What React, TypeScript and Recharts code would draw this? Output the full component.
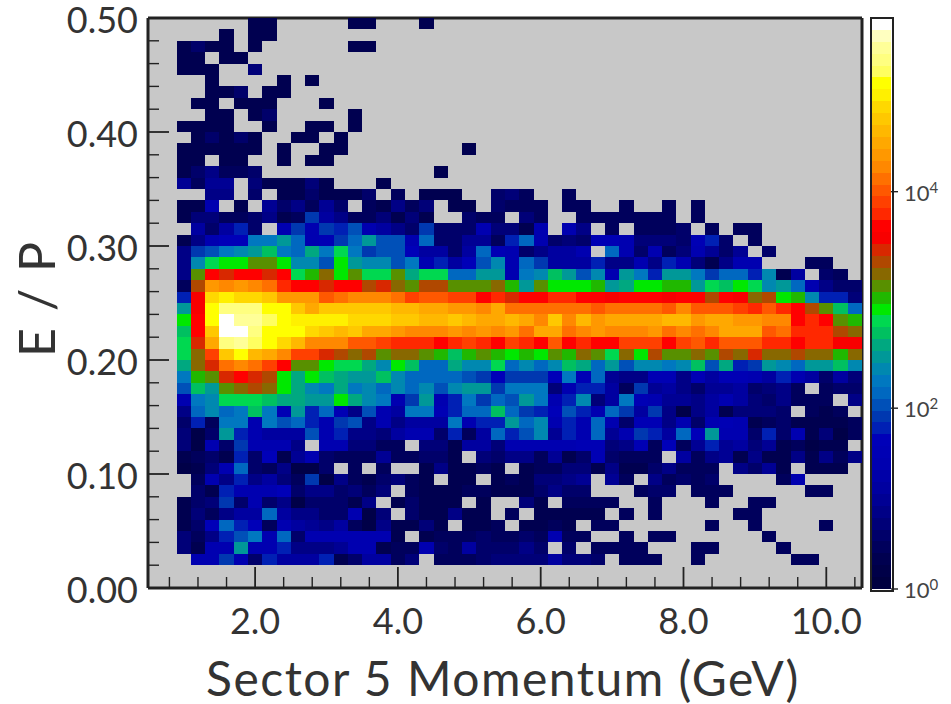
import { Bar, BarChart, CartesianGrid, Scatter, ScatterChart, XAxis, YAxis } from "recharts";

// colour levels, lowest count first, one letter per level
const LEVEL_KEYS = "abcdefghijklmnopqrstuvwxyzABCDEFGHIJKLMNOPQRSTUV";
const LEVEL_COLORS = [
  "#000040", "#000048", "#000050", "#00005c", "#00006a", "#000078", "#000086", "#000094",
  "#0000a0", "#0000a8", "#0000b0", "#0000b4", "#0000b8", "#0020b4", "#0038b0", "#0050b8",
  "#0068c0", "#0078c0", "#0088b0", "#009898", "#00a880", "#00c060", "#00d850", "#00e800",
  "#20b800", "#589000", "#886800", "#b04800", "#d82800", "#f80000", "#ff0000", "#ff2800",
  "#ff4000", "#ff5800", "#ff7000", "#ff8800", "#ff9800", "#ffa800", "#ffb800", "#ffc800",
  "#ffd800", "#fff000", "#ffff00", "#ffff60", "#ffff80", "#ffff98", "#ffffc0", "#ffffff",
];

// histogram rows, top row (E/P 0.49-0.50) first, 50 momentum bins in each, "." is an empty bin
const E = "..........";
const HIST_ROWS = [
  `.......cc. ....cc...c ${E} ${E} ${E}`,
  `.....c.cc. ${E} ${E} ${E} ${E}`,
  `..cecc.c.. ....cc.... ${E} ${E} ${E}`,
  `..cc.cc... ${E} ${E} ${E} ${E}`,
  `..ccc..f.. ${E} ${E} ${E} ${E}`,
  `....c....c .c........ ${E} ${E} ${E}`,
  `....cce.cc ${E} ${E} ${E} ${E}`,
  `...cc.ccc. ..c....... ${E} ${E} ${E}`,
  `....cc.ce. ....c..... ${E} ${E} ${E}`,
  `..cccc..c. .cc.c..... ${E} ${E} ${E}`,
  `...cecec.. cc.c...... ${E} ${E} ${E}`,
  `..cccccc.c ..cc...... ..c....... ${E} ${E}`,
  `..cc.cc..c .cc....... ${E} ${E} ${E}`,
  `..cegdde.. ${E} c......... ${E} ${E}`,
  `..hdhh.fcc cfc...c... ${E} ${E} ${E}`,
  `....gg.e.c ceccce.d.c cc..efd..d ${E} ${E}`,
  `..cck.c.he gdhe.dcgdf .cc.eddd.d d..d..d.d. ${E}`,
  `..cffddegc doigddfcfc ..edd.fd.. ddddddd.d. ${E}`,
  `...ieine.k okonpkigeo eeekffck.k g.d.ddde.d .dd.......`,
  `..cgkmmrrt qkloqtppkq eehhdnqkef ellkfffeln e.d.......`,
  `..goprstvr qurwroppmi ieiqlkegii k.qkekdfkh eh.e......`,
  `..gswxxzzx sspxtssprk nimpskqoii inggkgnkfc gkk...dd..`,
  `..gzECEECE wyAxzwwzuw wqqttkrsvt psktrnttro qqnsci.ed.`,
  `..dBKJKJIF EECEEBCAzB BzzzAytzxx xytuxxyytw vxwstqkgee`,
  `..nDOPOONK KKHIJJJIGH HGGEFCEEFF EEDEEEDEEB EDABxysnnf`,
  `..tDQSSSQQ NLNNNNNMML LKKJLIIIII IHIIIIHJHH HGFHFEBzvq`,
  `..xEQVTTRQ PPPPOOONNM MNMLLMLJNJ MKLLLLMMKL LKKJJEFEzy`,
  `..vENVVSQQ QONMNLLKJJ JKJKJKILLI JKJJJKIJIJ LLLHIFFFBA`,
  `..wCLSTRQO MJJJHHGFFF EFGFEGFEHE FEEGGGEGHF HHHFFEFFDD`,
  `..wAGNQMLJ GGCBABzAAz yvyzyxyxzy AzwAxBzzAz BACAABAAyA`,
  `..uACIJIGE zzxwwusxvq qusswqsqsv uqtpssrsvp unotsqttvs`,
  `..ryzCECBx uxvuttvsqq qqpomooomr lqhggllgli llkinkieif`,
  `..pvtzABAx usrursqsqs psttorrrfk nnidohigeh hiefgd.dee`,
  `..krswwwvu uttxusrkot knroqptrkn sfirlkhhgi kifegddd.g`,
  `..gqsqrvrl tnqlgpkirr lnqqvqonmp nkqoiogbgi cfffe.dcd.`,
  `..endrrkrp qnkopgkgii irknntqskn kqkellgkek lkcdeccccd`,
  `..fbetnkii ipknggfikk endiqnpshn kqhkoniqmt kkenekcfbd`,
  `..fbkeokkk g.kkffdd.f fciifkkkkk llfgldmdhn hifhcdbcc.`,
  `..cdecnemc hkedddhdde ec.feggdhc eleddd.idg hcgccgcgdg`,
  `..bcfkqedg bbe.d.d..c gccdc.cddf fcgccegddd .gehc.ccc.`,
  `...dkgngif dobgdcefdc .cc.cdcffg h.hd.gdede ....dk....`,
  `...ecnkkkm eggefdf.dc ccddcccege e...dee.dd d.....dd..`,
  `..cefoekeg beeecg.cec cc.c..fc.d ddd..d...d ..dd......`,
  `..cfdgiiqi ggeekbf.ec cgcc.d.ccc cc.d.d.... .dd.......`,
  `..cemqnmdk ihgidbgccf c.ccd.ccdc .dd......d ..d....d..`,
  `..fdgnprkq ekkkkkkc.c dddeddedkd d..d.dd... ...d......`,
  `..fckktkkn ggghkkcddk edieeege.e .dddd...dd ....d.....`,
  `...kkokeni iinceiidf. dddeffffif fe.ddd..d. .....dd...`,
  `${E} ${E} ${E} ${E} ${E}`,
  `${E} ${E} ${E} ${E} ${E}`,
];

const MOMENTUM_START = 0.5;
const MOMENTUM_BIN = 0.2;
const EP_TOP = 0.5;
const EP_BIN = 0.01;

const X_TICKS = [0.8, 1.2, 1.6, 2, 2.4, 2.8, 3.2, 3.6, 4, 4.4, 4.8, 5.2, 5.6, 6, 6.4, 6.8, 7.2, 7.6, 8, 8.4, 8.8, 9.2, 9.6, 10, 10.4];
const X_MAJOR = [2, 4, 6, 8, 10];
const Y_TICKS = [0, 0.02, 0.04, 0.06, 0.08, 0.1, 0.12, 0.14, 0.16, 0.18, 0.2, 0.22, 0.24, 0.26, 0.28, 0.3, 0.32, 0.34, 0.36, 0.38, 0.4, 0.42, 0.44, 0.46, 0.48, 0.5];
const Y_MAJOR = [0, 0.1, 0.2, 0.3, 0.4, 0.5];

// colour bar ticks, in levels from the bottom of the bar
const BAR_TICKS = [0, 15.2, 33.4];
const BAR_TICK_EXPONENTS = ["0", "2", "4"];

const cells = HIST_ROWS.flatMap((row, r) =>
  row
    .replace(/ /g, "")
    .split("")
    .flatMap((key, c) =>
      key === "."
        ? []
        : [{ momentum: MOMENTUM_START + (c + 0.5) * MOMENTUM_BIN, ep: EP_TOP - (r + 0.5) * EP_BIN, level: LEVEL_KEYS.indexOf(key) }]
    )
);

const barRow = [Object.fromEntries(LEVEL_COLORS.map((_, i) => [`l${i}`, 1]))];

const PLOT = { left: 148, top: 18, width: 714, height: 570 };
const CELL_W = PLOT.width / 50;
const CELL_H = PLOT.height / 50;
const FONT = "Lato, sans-serif";
const INK = "#333";
const FRAME = "#222";

function Cell(props: any) {
  return (
    <rect
      x={props.cx - CELL_W / 2}
      y={props.cy - CELL_H / 2}
      width={CELL_W}
      height={CELL_H}
      fill={LEVEL_COLORS[props.payload.level]}
      shapeRendering="crispEdges"
    />
  );
}

function BottomTick({ x, y, payload }: any) {
  const major = X_MAJOR.includes(payload.value);
  return (
    <g>
      <line x1={x} x2={x} y1={y} y2={y - (major ? 21 : 11)} stroke={FRAME} strokeWidth={major ? 1.8 : 1.4} />
      {major && (
        <text x={x} y={y + 46} textAnchor="middle" fontFamily={FONT} fontSize={36} fill={INK}>
          {payload.value.toFixed(1)}
        </text>
      )}
    </g>
  );
}

function LeftTick({ x, y, payload }: any) {
  const major = Y_MAJOR.includes(payload.value);
  return (
    <g>
      <line x1={x} x2={x + (major ? 21 : 11)} y1={y} y2={y} stroke={FRAME} strokeWidth={major ? 1.8 : 1.4} />
      {major && (
        <text x={x - 10} y={y + 15} textAnchor="end" fontFamily={FONT} fontSize={36} fill={INK}>
          {payload.value.toFixed(2)}
        </text>
      )}
    </g>
  );
}

function TopTick({ x, y }: any) {
  return <line x1={x} x2={x} y1={y} y2={y + 11} stroke={FRAME} strokeWidth={1.4} />;
}

function RightTick({ x, y }: any) {
  return <line x1={x} x2={x - 11} y1={y} y2={y} stroke={FRAME} strokeWidth={1.4} />;
}

function BarTick({ x, y, payload, index }: any) {
  return (
    <g>
      <line x1={x} x2={x + 7} y1={y} y2={y} stroke={FRAME} strokeWidth={1.4} />
      <text x={x + 13} y={y + 9} fontFamily={FONT} fontSize={22} fill="#444">
        10
        <tspan dy={-8} fontSize={15}>
          {BAR_TICK_EXPONENTS[index ?? BAR_TICKS.indexOf(payload.value)]}
        </tspan>
      </text>
    </g>
  );
}

export default function App() {
  return (
    <div style={{ position: "absolute", left: 0, top: 0, width: 951, height: 704, background: "#fff" }}>
      <ScatterChart
        width={951}
        height={704}
        margin={{ left: 0, top: PLOT.top - 1, right: 951 - PLOT.left - PLOT.width - 1, bottom: 0 }}
      >
        <CartesianGrid fill="#c8c8c8" horizontal={false} vertical={false} />
        <Scatter data={cells} dataKey="ep" shape={Cell} isAnimationActive={false} />
        <XAxis
          dataKey="momentum"
          type="number"
          domain={[0.5, 10.5]}
          ticks={X_TICKS}
          interval={0}
          height={704 - PLOT.top - PLOT.height}
          tick={BottomTick}
          tickSize={0}
          tickMargin={0}
          tickLine={false}
          axisLine={{ stroke: FRAME, strokeWidth: 3 }}
        />
        <XAxis
          xAxisId="top"
          orientation="top"
          type="number"
          domain={[0.5, 10.5]}
          ticks={X_MAJOR}
          interval={0}
          height={1}
          tick={TopTick}
          tickSize={0}
          tickMargin={0}
          tickLine={false}
          axisLine={{ stroke: FRAME, strokeWidth: 3 }}
        />
        <YAxis
          dataKey="ep"
          type="number"
          domain={[0, 0.5]}
          ticks={Y_TICKS}
          interval={0}
          width={PLOT.left}
          tick={LeftTick}
          tickSize={0}
          tickMargin={0}
          tickLine={false}
          axisLine={{ stroke: FRAME, strokeWidth: 3 }}
          label={{ value: "E / P", angle: -90, position: "insideLeft", offset: 37, fontFamily: FONT, fontSize: 50, fill: INK, dy: 54, style: { letterSpacing: 2 } }}
        />
        <YAxis
          yAxisId="right"
          orientation="right"
          type="number"
          domain={[0, 0.5]}
          ticks={Y_MAJOR}
          interval={0}
          width={1}
          tick={RightTick}
          tickSize={0}
          tickMargin={0}
          tickLine={false}
          axisLine={{ stroke: FRAME, strokeWidth: 3 }}
        />
      </ScatterChart>
      <div
        style={{ position: "absolute", left: 503, top: 652, transform: "translateX(-50%)", whiteSpace: "nowrap", fontFamily: FONT, fontSize: 48, letterSpacing: 1.5, color: INK, lineHeight: "52px" }}
      >
        Sector 5 Momentum (GeV)
      </div>
      <div style={{ position: "absolute", left: 871, top: 18, width: 80, height: 610 }}>
        <BarChart
          width={80}
          height={610}
          data={barRow}
          barCategoryGap={0}
          margin={{ left: 0, top: 0, right: 0, bottom: 39 }}
        >
          <XAxis hide />
          <YAxis
            orientation="right"
            type="number"
            domain={[0, LEVEL_COLORS.length]}
            ticks={BAR_TICKS}
            interval={0}
            width={60}
            tick={BarTick}
            tickSize={0}
            tickMargin={0}
            tickLine={false}
            axisLine={false}
          />
          {LEVEL_COLORS.map((color, i) => (
            <Bar key={color} dataKey={`l${i}`} stackId="bar" fill={color} shapeRendering="crispEdges" isAnimationActive={false} />
          ))}
        </BarChart>
        <div style={{ position: "absolute", left: -1, top: -1, width: 20, height: 571, border: "2px solid #222", pointerEvents: "none" }} />
      </div>
    </div>
  );
}
